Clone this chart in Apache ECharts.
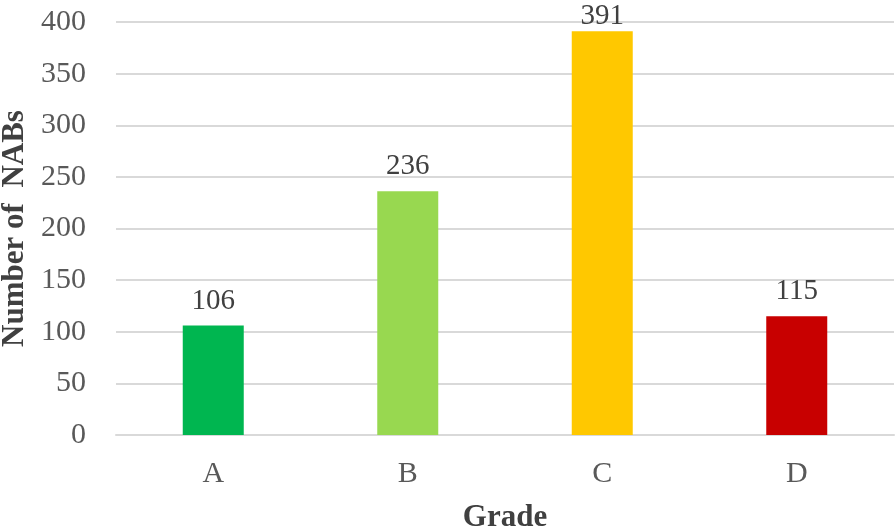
<!DOCTYPE html>
<html><head><meta charset="utf-8">
<script src="https://cdn.jsdelivr.net/npm/echarts@6/dist/echarts.min.js"></script>
<style>html,body{margin:0;padding:0;background:#fff}#c{width:896px;height:531px}</style>
</head><body><div id="c"></div>
<script>
const categories = ['A', 'B', 'C', 'D'];
const values = [106, 236, 391, 115];
const barColors = ['#00b650', '#98d850', '#ffc800', '#c80000'];
const yTicks = { min: 0, max: 400, interval: 50 };

const chart = echarts.init(document.getElementById('c'));
const font = 'Liberation Serif, Times New Roman, serif';
chart.setOption({
  animation: false,
  grid: { left: 116, right: 2, top: 22, bottom: 96, containLabel: false, outerBoundsMode: 'none' },
  xAxis: {
    type: 'category', data: categories,
    name: 'Grade', nameLocation: 'middle', nameGap: 67,
    nameTextStyle: { fontFamily: font, fontSize: 31, fontWeight: 'bold', color: '#404040' },
    axisLine: { lineStyle: { color: '#d9d9d9', width: 2 } },
    axisTick: { show: false },
    axisLabel: { fontFamily: font, fontSize: 30, color: '#595959', margin: 24 }
  },
  yAxis: {
    type: 'value', min: yTicks.min, max: yTicks.max, interval: yTicks.interval,
    name: 'Number of  NABs', nameLocation: 'middle', nameGap: 86,
    nameTextStyle: { fontFamily: font, fontSize: 31, fontWeight: 'bold', color: '#404040' },
    axisLine: { show: false }, axisTick: { show: false },
    splitLine: { lineStyle: { color: '#d9d9d9', width: 2 } },
    axisLabel: { fontFamily: font, fontSize: 30, color: '#595959', margin: 30 }
  },
  series: [{
    type: 'bar', barWidth: 61,
    data: values.map((v, i) => ({
      value: v,
      itemStyle: { color: barColors[i] },
      label: i === 2 ? { distance: 0 } : undefined
    })),
    label: { show: true, position: 'top', distance: 10, fontFamily: font, fontSize: 29, color: '#404040' }
  }]
});
</script></body></html>
